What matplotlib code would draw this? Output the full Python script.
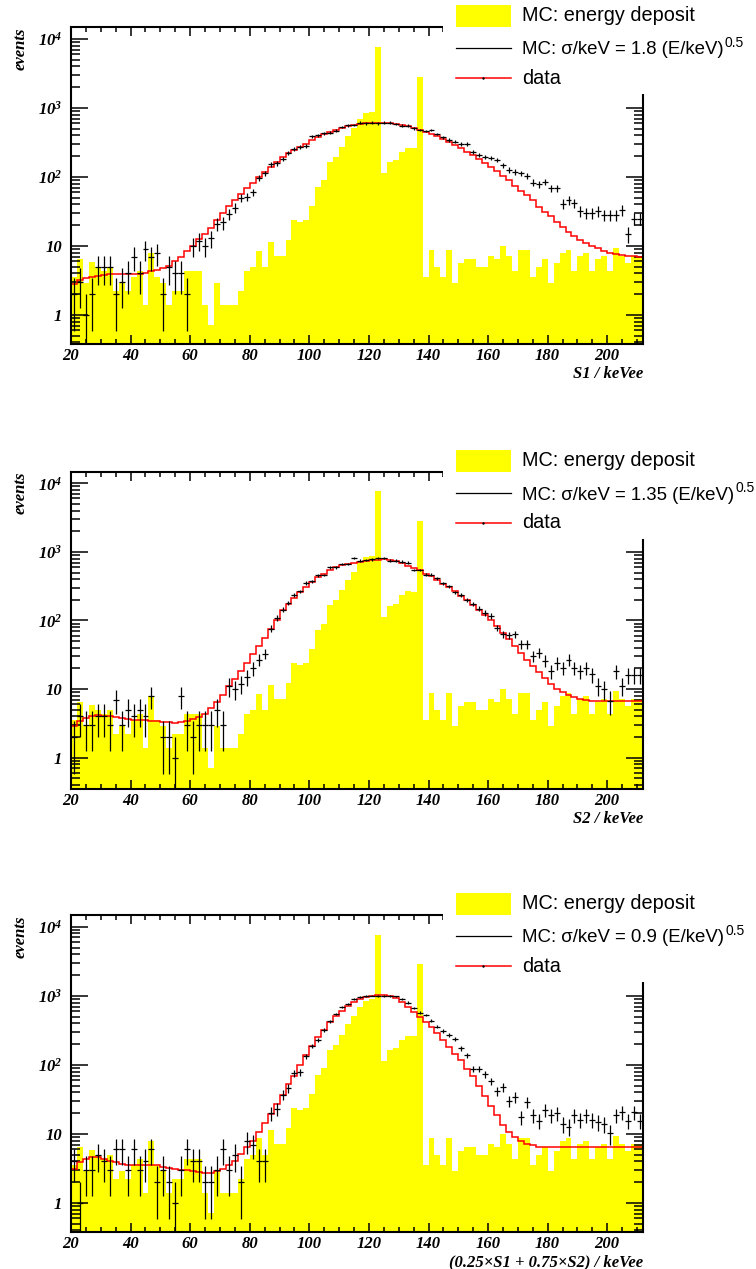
import numpy as np
import matplotlib.pyplot as plt
from matplotlib.ticker import LogLocator, MultipleLocator, NullFormatter
from matplotlib.patches import Rectangle
from matplotlib.lines import Line2D

plt.rcParams['mathtext.default'] = 'regular'

# binning: 2 keV bins from 20 to 212 keVee
edges = np.arange(20, 214, 2)
centers = edges[:-1] + 1

# MC energy deposit (same in all three panels)
mc_deposit = [
    3.6, 6.5, 2.9, 5.8, 5.0, 4.3, 5.0, 2.2, 2.9, 2.2,
    3.6, 4.3, 1.4, 7.9, 3.6, 2.9, 1.4, 2.2, 2.2, 4.3,
    4.3, 4.3, 1.4, 0.72, 2.9, 1.4, 1.4, 1.4, 2.2, 4.3,
    5.0, 8.6, 5.0, 11.5, 7.2, 7.2, 12.2, 23.8, 22.3, 23.8,
    38, 72, 90, 166, 196, 275, 395, 505, 690, 855,
    885, 7700, 114, 164, 175, 233, 265, 260, 2850, 3.6,
    8.7, 4.9, 3.6, 8.7, 2.9, 5.7, 6.4, 6.4, 5.0, 5.0,
    7.2, 6.4, 10.1, 7.2, 4.4, 8.7, 8.7, 3.6, 4.9, 6.4,
    2.9, 5.6, 8.0, 8.7, 4.4, 7.2, 8.0, 4.4, 6.4, 7.2,
    4.4, 9.4, 7.2, 5.7, 7.2, 7.2]

# S1 spectrum
s1_smeared = [
    2.8, 3.2, 3.4, 3.6, 3.7, 3.85, 3.9, 3.9, 3.9, 3.9,
    3.9, 3.9, 4.0, 4.3, 4.5, 4.8, 5.2, 6.0, 7.0, 8.5,
    10, 12.5, 15, 18, 24, 30, 38, 46, 56, 70,
    83, 99, 117, 141, 163, 196, 225, 250, 270, 300,
    340, 380, 420, 455, 485, 520, 550, 570, 590, 600,
    605, 605, 600, 600, 590, 560, 540, 505, 480, 454,
    418, 390, 353, 325, 290, 260, 233, 208, 180, 162,
    141, 122, 104, 89, 74, 63, 55, 46, 37, 31,
    27, 22, 18.6, 16.1, 14, 12.2, 11, 10, 9.3, 8.5,
    8.0, 7.6, 7.4, 7.2, 7.1, 7.0]
s1_data = [
    2, 3, 1, 2, 5, 5, 5, 2, 3, 4,
    7, 4, 9, 7, 8, 2, 5, 4, 4, 2,
    10, 12, 10, 13, 21, 22, 29, 36, 50, 52,
    60, 96, 113, 152, 157, 182, 225, 252, 275, 280,
    390, 405, 430, 440, 470, 530, 560, 565, 615, 600,
    615, 600, 612, 612, 587, 555, 555, 507, 480, 464,
    480, 420, 376, 344, 325, 301, 301, 233, 208, 197,
    187, 176, 149, 126, 119, 113, 103, 83, 78, 85,
    69, 69, 41, 46, 42, 32, 30, 30, 32, 28,
    28, 28, 33, 15, 25, 25]

# S2 spectrum
s2_smeared = [
    2.9, 3.4, 3.8, 4.1, 4.15, 4.1, 4.0, 3.9, 3.75, 3.67,
    3.6, 3.55, 3.5, 3.45, 3.4, 3.36, 3.3, 3.25, 3.3, 3.4,
    3.67, 3.9, 4.4, 5.25, 6.4, 8.2, 11.2, 14, 18.4, 24.3,
    32, 43, 56, 74, 100, 141, 176, 214, 261, 303,
    359, 424, 480, 537, 593, 634, 670, 700, 724, 748,
    760, 770, 775, 766, 732, 700, 633, 580, 536, 480,
    439, 393, 344, 307, 266, 230, 201, 170, 144, 122,
    100, 82, 66, 53, 42, 34, 27, 21.5, 17.5, 14.5,
    12, 10.2, 9.0, 8.2, 7.6, 7.2, 6.9, 6.8, 6.6, 6.6,
    6.6, 6.6, 6.6, 6.6, 6.6, 6.6]
s2_data = [
    2, 4, 3, 3, 4, 4, 3, 7, 3, 5,
    4, 5, 4, 8, 0, 2, 2, 1, 8, 3,
    2, 3, 3, 3, 5, 3, 11, 10, 12, 15,
    20, 27, 33, 76, 110, 144, 180, 238, 266, 352,
    372, 454, 462, 593, 593, 663, 663, 809, 748, 760,
    775, 810, 810, 748, 748, 724, 700, 548, 548, 464,
    464, 415, 351, 314, 257, 233, 201, 174, 149, 129,
    116, 78, 63, 61, 63, 45, 45, 30, 34, 26,
    18.5, 24, 20.6, 27, 20.6, 18.5, 20.6, 16.5, 11.2, 10,
    6.8, 18.5, 11.2, 16, 16, 16]

# combined energy scale
comb_smeared = [
    3.1, 3.9, 4.3, 4.7, 4.6, 4.3, 4.1, 3.9, 3.66, 3.6,
    3.6, 3.6, 3.6, 3.6, 3.5, 3.3, 3.2, 3.1, 3.0, 3.0,
    2.9, 2.85, 2.76, 2.76, 2.9, 3.1, 3.5, 4.1, 5.1, 6.4,
    8.0, 10.6, 14.3, 19.6, 27, 37, 52, 70, 99, 140,
    185, 250, 320, 414, 517, 611, 723, 808, 903, 955,
    1010, 1035, 1020, 1000, 924, 826, 700, 590, 497, 420,
    357, 286, 228, 183, 146, 117, 88, 70, 49, 35,
    25, 18.5, 13.6, 10.6, 8.9, 7.8, 7.1, 6.8, 6.5, 6.4,
    6.4, 6.4, 6.4, 6.4, 6.4, 6.4, 6.4, 6.4, 6.4, 6.4,
    6.4, 6.4, 6.4, 6.4, 6.4, 6.4]
comb_data = [
    4, 1, 3, 3, 5, 4, 3, 6, 6, 3,
    6, 3, 4, 6, 2, 3, 2, 1, 3, 6,
    4, 4, 2, 2, 3, 6, 3, 5, 2, 8,
    7, 4, 4, 20, 23, 37, 46, 76, 78, 134,
    189, 229, 320, 428, 547, 684, 766, 895, 955, 990,
    1010, 1000, 1000, 1000, 978, 893, 800, 661, 571, 528,
    437, 357, 309, 270, 234, 173, 138, 88, 88, 74,
    58, 42, 48, 30, 34, 17.5, 29, 18.5, 15.6, 22,
    18.5, 20, 14, 12.8, 18.5, 16, 18.5, 16, 14.8, 14,
    10.2, 18.9, 20.6, 15.6, 20.6, 15.6]

sigma_labels = ['1.8', '1.35', '0.9']
x_titles = ['S1 / keVee', 'S2 / keVee', '(0.25\u00d7S1 + 0.75\u00d7S2) / keVee']

W, H = 756, 1269
fig = plt.figure(figsize=(W / 100, H / 100), dpi=100)
renderer = fig.canvas.get_renderer()

axfont = dict(family='Liberation Serif', weight='bold', style='italic', size=12)
legfont = dict(family='Liberation Sans', size=14.3)


def fx(px):
    return px / W


def fy(py):
    return 1 - py / H


panels = [
    (27, s1_smeared, s1_data, (0.38, 1.49e4)),
    (472, s2_smeared, s2_data, (0.35, 1.46e4)),
    (915, comb_smeared, comb_data, (0.38, 1.48e4)),
]

for k, (top, smeared, data, ylim) in enumerate(panels):
    ax = fig.add_axes([fx(71), fy(top + 317), fx(572), 317 / H])
    ax.set_yscale('log', nonpositive='clip')

    ax.stairs(mc_deposit, edges, fill=True, color='#ffff00', baseline=1e-3, zorder=1)
    ax.stairs(smeared, edges, baseline=None, color='red', lw=1.1, zorder=2)

    d = np.array(data, dtype=float)
    ok = d > 0
    ax.errorbar(centers[ok], d[ok], xerr=1, yerr=np.sqrt(d[ok]), fmt='none',
                ecolor='black', elinewidth=0.9, capsize=0, zorder=3)

    ax.set_xlim(20, 212)
    ax.set_ylim(*ylim)

    ax.set_xticks(np.arange(20, 201, 20), labels=[str(v) for v in range(20, 201, 20)], **axfont)
    ax.xaxis.set_minor_locator(MultipleLocator(5))
    ax.set_yticks([1, 10, 100, 1000, 10000],
                  labels=['1', '10', '$10^{2}$', '$10^{3}$', '$10^{4}$'], **axfont)
    ax.yaxis.set_minor_locator(LogLocator(base=10, subs=np.arange(2, 10)))
    ax.yaxis.set_minor_formatter(NullFormatter())

    ax.tick_params(which='both', direction='in', top=True, right=True, width=1.1)
    ax.tick_params(axis='x', which='major', length=6.5, pad=3)
    ax.tick_params(axis='x', which='minor', length=3.6)
    ax.tick_params(axis='y', which='major', length=12.5, pad=6.5)
    ax.tick_params(axis='y', which='minor', length=6.8)
    for sp in ax.spines.values():
        sp.set_linewidth(1.5)

    fig.text(fx(643), fy(top + 317 + 30), x_titles[k], ha='right', va='center', **axfont)
    fig.text(fx(21), fy(top), 'events', rotation=90, ha='center', va='top', **axfont)

    # legend: white box over the top right corner of the frame
    fig.patches.append(Rectangle((fx(443), fy(top + 67)), 1 - fx(443), (top + 67 - max(top - 30, 0)) / H,
                                 transform=fig.transFigure, facecolor='white',
                                 edgecolor='none'))
    fig.patches.append(Rectangle((fx(456), fy(top)), fx(55), 22 / H,
                                 transform=fig.transFigure, facecolor='#ffff00',
                                 edgecolor='none'))
    fig.lines.append(Line2D([fx(456), fx(511)], [fy(top + 21)] * 2,
                            transform=fig.transFigure, color='black', lw=0.9))
    fig.lines.append(Line2D([fx(456), fx(511)], [fy(top + 51)] * 2,
                            transform=fig.transFigure, color='red', lw=1.1))
    fig.lines.append(Line2D([fx(483)], [fy(top + 51)], transform=fig.transFigure,
                            marker='.', ms=1.5, color='black'))
    fig.text(fx(522), fy(top - 6), 'MC: energy deposit', ha='left', va='baseline', **legfont)
    sig = fig.text(fx(522), fy(top + 27.5), 'MC: \u03c3/keV = %s (E/keV)' % sigma_labels[k],
                   ha='left', va='baseline', family='Liberation Sans', size=13.4)
    bb = sig.get_window_extent(renderer)
    fig.text((bb.x1 + 1) / W, fy(top + 20), '0.5', ha='left', va='baseline',
             family='Liberation Sans', size=10)
    fig.text(fx(522), fy(top + 56.5), 'data', ha='left', va='baseline', **legfont)

fig.savefig('out.png', dpi=100)
